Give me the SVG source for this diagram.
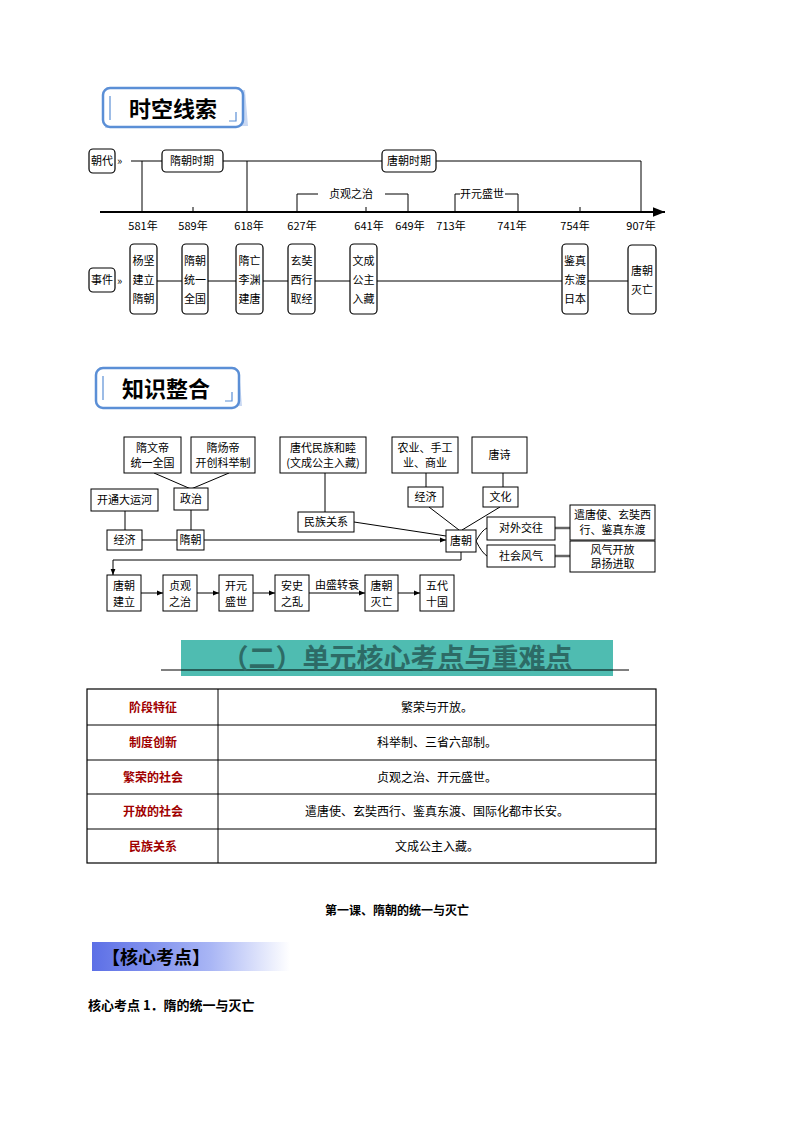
<svg xmlns="http://www.w3.org/2000/svg" width="794" height="1123" viewBox="0 0 794 1123">
<defs>
<style>
text{font-family:"Noto Sans CJK SC",sans-serif;fill:#000}
.t{font-size:12px;text-anchor:middle}
.s{font-size:11px;text-anchor:middle}
.b{fill:#fff;stroke:#000;stroke-width:1}
.rb{fill:#fff;stroke:#000;stroke-width:1.2}
.l{stroke:#000;stroke-width:1;fill:none}
.h{font-size:22px;font-weight:bold}
.red{font-size:12px;fill:#a00000;text-anchor:middle;font-weight:bold}
</style>
<marker id="a" viewBox="0 0 10 10" refX="10" refY="5" markerWidth="6" markerHeight="6" orient="auto"><path d="M0,1L10,5L0,9z" fill="#000"/></marker>
<linearGradient id="g" x1="0" x2="1"><stop offset="0" stop-color="#5c6fe6"/><stop offset="0.6" stop-color="#a9b6f5"/><stop offset="1" stop-color="#fff"/></linearGradient>
</defs>
<rect width="794" height="1123" fill="#fff"/>

<g id="title1">
<path d="M108,90 L245,90 L248,126 L105,128 Z" fill="#c9d8f2"/>
<rect x="103" y="88" width="140" height="39" rx="7" fill="#fff" stroke="#5b8fd6" stroke-width="2.5"/>
<line x1="110" y1="96" x2="110" y2="120" stroke="#5b8fd6" stroke-width="1.2"/>
<path d="M236,112 L236,121 L229,121" stroke="#5b8fd6" stroke-width="1.2" fill="none"/>
<text x="173" y="117" class="h" text-anchor="middle">时空线索</text>
</g>

<g id="connectors">
<line class="l" x1="131" y1="161" x2="641" y2="161"/>
<line class="l" x1="142" y1="161" x2="142" y2="212"/>
<line class="l" x1="247" y1="161" x2="247" y2="212"/>
<line class="l" x1="641" y1="161" x2="641" y2="212"/>
<line x1="100" y1="212" x2="665" y2="212" stroke="#000" stroke-width="2" marker-end="url(#a)"/>
<path class="l" d="M297,212 V194 H318 M385,194 H408 V212"/>
<path class="l" d="M455,212 V194 H460 M505,194 H518 V212"/>
<line class="l" x1="193" y1="207" x2="193" y2="212"/>
<line class="l" x1="366" y1="207" x2="366" y2="212"/>
<line class="l" x1="580" y1="207" x2="580" y2="212"/>
<line class="l" x1="131" y1="281" x2="628" y2="281"/>

<line class="l" x1="154" y1="473" x2="191" y2="489"/>
<line class="l" x1="229" y1="473" x2="191" y2="489"/>
<line class="l" x1="125" y1="511" x2="125" y2="530"/>
<line class="l" x1="191" y1="510" x2="191" y2="530"/>
<line class="l" x1="142" y1="540" x2="177" y2="540"/>
<line class="l" x1="204" y1="540" x2="446" y2="540" marker-end="url(#a)"/>
<line class="l" x1="325" y1="473" x2="325" y2="512"/>
<line class="l" x1="354" y1="522" x2="446" y2="536"/>
<line class="l" x1="426" y1="473" x2="426" y2="487"/>
<line class="l" x1="503" y1="473" x2="503" y2="487"/>
<line class="l" x1="429" y1="507" x2="459" y2="530"/>
<line class="l" x1="500" y1="507" x2="462" y2="530"/>
<path class="l" d="M476,541 Q482,530 487,528"/>
<path class="l" d="M476,541 Q482,553 487,556"/>
<line x1="555" y1="528" x2="570" y2="528" stroke="#666" stroke-width="2.5"/>
<line x1="555" y1="556" x2="570" y2="556" stroke="#666" stroke-width="2.5"/>
<path class="l" d="M461,552 V560 H113 V575" marker-end="url(#a)"/>
<line class="l" x1="141" y1="593" x2="163" y2="593" marker-end="url(#a)"/>
<line class="l" x1="197" y1="593" x2="219" y2="593" marker-end="url(#a)"/>
<line class="l" x1="253" y1="593" x2="275" y2="593" marker-end="url(#a)"/>
<line class="l" x1="309" y1="593" x2="365" y2="593" marker-end="url(#a)"/>
<line class="l" x1="398" y1="593" x2="420" y2="593" marker-end="url(#a)"/>
</g>
<text x="337" y="589" class="s">由盛转衰</text>

<g id="timeline">
<rect class="rb" x="89" y="149" width="26" height="24" rx="4"/><text x="102" y="165" class="s">朝代</text>
<text x="117" y="165" font-size="11">»</text>
<rect class="rb" x="162" y="150" width="61" height="22" rx="4"/><text x="192" y="165" class="s">隋朝时期</text>
<rect class="rb" x="382" y="150" width="54" height="22" rx="4"/><text x="409" y="165" class="s">唐朝时期</text>
<rect x="320" y="186" width="62" height="16" fill="#fff"/><text x="351" y="198" class="s">贞观之治</text>
<text x="482" y="198" class="s">开元盛世</text>
<g class="s">
<text x="143" y="230" class="s">581年</text><text x="193" y="230" class="s">589年</text>
<text x="249" y="230" class="s">618年</text><text x="302" y="230" class="s">627年</text>
<text x="369" y="230" class="s">641年</text><text x="410" y="230" class="s">649年</text>
<text x="451" y="230" class="s">713年</text><text x="512" y="230" class="s">741年</text>
<text x="575" y="230" class="s">754年</text><text x="641" y="230" class="s">907年</text>
</g>
<rect class="rb" x="89" y="268" width="26" height="24" rx="4"/><text x="102" y="284" class="s">事件</text>
<text x="117" y="285" font-size="11">»</text>
</g>
<g id="ev1"><rect class="rb" x="130" y="244" width="27" height="70" rx="4"/><text class="s" x="143.5" y="265">杨坚</text><text class="s" x="143.5" y="284">建立</text><text class="s" x="143.5" y="303">隋朝</text></g>
<g id="ev2"><rect class="rb" x="182" y="244" width="26" height="70" rx="4"/><text class="s" x="195" y="265">隋朝</text><text class="s" x="195" y="284">统一</text><text class="s" x="195" y="303">全国</text></g>
<g id="ev3"><rect class="rb" x="236" y="244" width="27" height="70" rx="4"/><text class="s" x="249.5" y="265">隋亡</text><text class="s" x="249.5" y="284">李渊</text><text class="s" x="249.5" y="303">建唐</text></g>
<g id="ev4"><rect class="rb" x="288" y="244" width="27" height="70" rx="4"/><text class="s" x="301.5" y="265">玄奘</text><text class="s" x="301.5" y="284">西行</text><text class="s" x="301.5" y="303">取经</text></g>
<g id="ev5"><rect class="rb" x="350" y="244" width="27" height="70" rx="4"/><text class="s" x="363.5" y="265">文成</text><text class="s" x="363.5" y="284">公主</text><text class="s" x="363.5" y="303">入藏</text></g>
<g id="ev6"><rect class="rb" x="562" y="244" width="26" height="70" rx="4"/><text class="s" x="575" y="265">鉴真</text><text class="s" x="575" y="284">东渡</text><text class="s" x="575" y="303">日本</text></g>
<g id="ev7"><rect class="rb" x="628" y="245" width="28" height="69" rx="4"/><text class="s" x="642" y="275">唐朝</text><text class="s" x="642" y="294">灭亡</text></g>

<g id="title2">
<path d="M101,370 L239,370 L242,406 L98,408 Z" fill="#c9d8f2"/>
<rect x="96" y="368" width="143" height="40" rx="7" fill="#fff" stroke="#5b8fd6" stroke-width="2.5"/>
<line x1="103" y1="376" x2="103" y2="400" stroke="#5b8fd6" stroke-width="1.2"/>
<path d="M232,392 L232,401 L225,401" stroke="#5b8fd6" stroke-width="1.2" fill="none"/>
<text x="166" y="397" class="h" text-anchor="middle">知识整合</text>
</g>

<g id="k1"><rect class="b" x="124" y="437" width="57" height="36"/><text class="s" x="152.5" y="452">隋文帝</text><text class="s" x="152.5" y="467">统一全国</text></g>
<g id="k2"><rect class="b" x="191" y="437" width="64" height="36"/><text class="s" x="223" y="452">隋炀帝</text><text class="s" x="223" y="467">开创科举制</text></g>
<g id="k3"><rect class="b" x="174" y="488" width="34" height="22"/><text class="s" x="191" y="503">政治</text></g>
<g id="k4"><rect class="b" x="91" y="489" width="67" height="22"/><text class="s" x="124.5" y="504">开通大运河</text></g>
<g id="k5"><rect class="b" x="107" y="530" width="35" height="20"/><text class="s" x="124.5" y="544">经济</text></g>
<g id="k6"><rect class="b" x="177" y="530" width="27" height="20"/><text class="s" x="190.5" y="544">隋朝</text></g>
<g id="k7"><rect class="b" x="280" y="437" width="86" height="36"/><text class="s" x="323" y="452">唐代民族和睦</text><text class="s" x="323" y="467">(文成公主入藏)</text></g>
<g id="k8"><rect class="b" x="298" y="512" width="56" height="20"/><text class="s" x="326" y="526">民族关系</text></g>
<g id="k9"><rect class="b" x="392" y="437" width="66" height="36"/><text class="s" x="425" y="452">农业、手工</text><text class="s" x="425" y="467">业、商业</text></g>
<g id="k10"><rect class="b" x="472" y="437" width="55" height="36"/><text class="s" x="499.5" y="459">唐诗</text></g>
<g id="k11"><rect class="b" x="408" y="487" width="35" height="20"/><text class="s" x="425.5" y="501">经济</text></g>
<g id="k12"><rect class="b" x="483" y="487" width="35" height="20"/><text class="s" x="500.5" y="501">文化</text></g>
<g id="k13"><rect class="b" x="446" y="530" width="30" height="22"/><text class="s" x="461" y="545">唐朝</text></g>
<g id="k14"><rect class="b" x="487" y="517" width="68" height="23"/><text class="s" x="521" y="532">对外交往</text></g>
<g id="k15"><rect class="b" x="487" y="545" width="68" height="22"/><text class="s" x="521" y="560">社会风气</text></g>
<g id="k16"><rect class="b" x="570" y="505" width="85" height="35"/><text class="s" x="612.5" y="519">遣唐使、玄奘西</text><text class="s" x="612.5" y="534">行、鉴真东渡</text></g>
<g id="k17"><rect class="b" x="570" y="541" width="85" height="31"/><text class="s" x="612.5" y="554">风气开放</text><text class="s" x="612.5" y="568">昂扬进取</text></g>
<g id="k18"><rect class="b" x="107" y="575" width="34" height="36"/><text class="s" x="124" y="590">唐朝</text><text class="s" x="124" y="606">建立</text></g>
<g id="k19"><rect class="b" x="163" y="575" width="34" height="36"/><text class="s" x="180" y="590">贞观</text><text class="s" x="180" y="606">之治</text></g>
<g id="k20"><rect class="b" x="219" y="575" width="34" height="36"/><text class="s" x="236" y="590">开元</text><text class="s" x="236" y="606">盛世</text></g>
<g id="k21"><rect class="b" x="275" y="575" width="34" height="36"/><text class="s" x="292" y="590">安史</text><text class="s" x="292" y="606">之乱</text></g>
<g id="k22"><rect class="b" x="365" y="575" width="33" height="36"/><text class="s" x="381.5" y="590">唐朝</text><text class="s" x="381.5" y="606">灭亡</text></g>
<g id="k23"><rect class="b" x="420" y="575" width="34" height="36"/><text class="s" x="437" y="590">五代</text><text class="s" x="437" y="606">十国</text></g>

<g id="banner">
<rect x="181" y="640" width="432" height="36" fill="#4fbcb1"/>
<line x1="161" y1="670" x2="629" y2="670" stroke="#000" stroke-width="1"/>
<text x="397" y="668" font-size="27" font-weight="bold" text-anchor="middle" fill="#2d6b66" style="fill:#2d6b66">（二）单元核心考点与重难点</text>
</g>

<g id="table">
<rect x="87" y="689" width="569" height="174" fill="#fff" stroke="#000" stroke-width="1.2"/>
<line class="l" x1="218" y1="689" x2="218" y2="863"/>
<line class="l" x1="87" y1="725" x2="656" y2="725"/>
<line class="l" x1="87" y1="760" x2="656" y2="760"/>
<line class="l" x1="87" y1="794" x2="656" y2="794"/>
<line class="l" x1="87" y1="829" x2="656" y2="829"/>
<text class="red" x="153" y="712" style="fill:#a00000">阶段特征</text>
<text class="red" x="153" y="747" style="fill:#a00000">制度创新</text>
<text class="red" x="153" y="782" style="fill:#a00000">繁荣的社会</text>
<text class="red" x="153" y="816" style="fill:#a00000">开放的社会</text>
<text class="red" x="153" y="851" style="fill:#a00000">民族关系</text>
<text class="t" x="437" y="712">繁荣与开放。</text>
<text class="t" x="437" y="747">科举制、三省六部制。</text>
<text class="t" x="437" y="782">贞观之治、开元盛世。</text>
<text class="t" x="437" y="816">遣唐使、玄奘西行、鉴真东渡、国际化都市长安。</text>
<text class="t" x="437" y="851">文成公主入藏。</text>
</g>

<text x="397" y="915" font-size="12" font-weight="bold" text-anchor="middle">第一课、隋朝的统一与灭亡</text>
<g id="core">
<rect x="92" y="942" width="198" height="29" fill="url(#g)"/>
<text x="102" y="964" font-size="18" font-weight="bold">【核心考点】</text>
</g>
<text x="88" y="1010" font-size="13" font-weight="bold">核心考点 1．隋的统一与灭亡</text>
</svg>
